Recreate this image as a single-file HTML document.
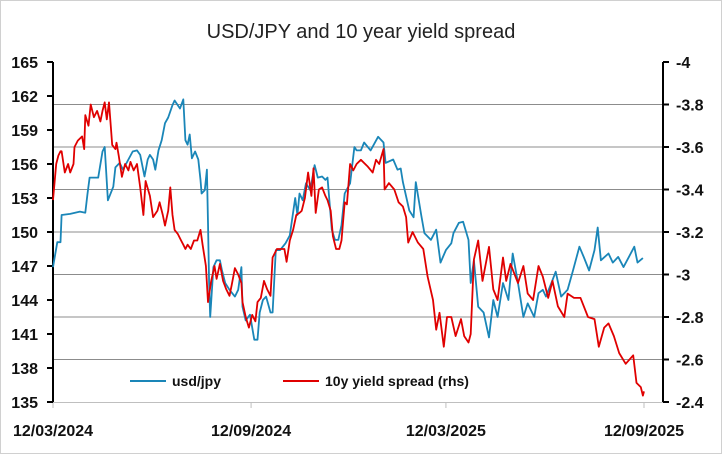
<!DOCTYPE html>
<html><head><meta charset="utf-8"><style>
body{margin:0;background:#fff;}
svg{display:block;font-family:"Liberation Sans",Arial,sans-serif;}
</style></head><body>
<svg id="c" width="722" height="454" xmlns="http://www.w3.org/2000/svg">
<rect x="0.5" y="0.5" width="721" height="453" fill="#fff" stroke="#d0d0d0"/>
<text x="361" y="38" text-anchor="middle" font-size="20" fill="#222">USD/JPY and 10 year yield spread</text>
</svg>
<script>
const usdDays=[0,4,7,8,16,25,30,32,34,42,46,48,51,56,58,62,65,70,74,78,81,85,88,90,93,95,98,101,104,107,111,113,118,121,123,125,127,129,132,135,137,138,141,143,144,145,146,149,152,155,157,160,164,169,172,175,176,179,183,187,190,192,195,198,202,204,207,211,216,220,225,227,229,232,235,239,243,246,250,253,255,259,262,265,268,271,276,280,282,286,289,295,302,307,309,316,320,323,325,331,335,337,342,345,351,356,360,365,370,372,377,381,386,388,391,395,400,405,409,413,418,423,427,432,437,441,447,451,455,458,463,467,472,478,483,489,493,498,503,506,509,516,520,525,530,535,540,543,548];
const usdVals=[146.9,149.1,149.1,151.5,151.6,151.8,151.7,153.3,154.8,154.8,157.1,157.5,152.8,154.0,155.7,156.1,155.5,156.4,157.1,157.2,156.8,154.9,156.4,156.8,156.4,155.5,157.2,158.1,159.6,160.1,161.2,161.6,160.9,161.7,158.1,157.7,158.6,156.5,157.1,156.4,154.6,153.4,153.7,155.5,150.8,145.5,142.5,146.9,147.5,147.5,146.6,145.5,144.9,144.3,144.9,146.9,143.4,142.2,142.7,140.5,140.5,142.9,144.0,144.3,142.9,142.9,148.4,148.4,149.0,149.7,153.0,151.5,153.4,152.8,154.3,153.7,155.9,154.8,154.9,154.6,154.8,150.2,149.3,149.3,150.6,153.4,154.3,157.5,157.2,157.2,157.9,157.2,158.4,157.9,156.1,156.4,155.5,155.6,154.4,151.9,151.3,154.4,151.5,149.9,149.3,150.2,147.3,148.4,149.0,149.9,150.8,150.9,149.3,145.5,147.5,143.4,142.9,140.7,144.0,142.5,145.5,144.0,148.1,145.5,142.5,143.7,142.5,144.6,144.9,144.3,145.5,146.5,144.3,144.9,146.6,148.7,147.8,146.6,148.4,150.4,147.5,148.1,147.3,147.8,146.9,147.8,148.7,147.3,147.7];
const sprDays=[0,3,5,7,8,11,14,16,19,20,23,27,29,30,33,35,38,41,44,46,48,50,52,55,58,59,61,64,67,70,72,75,78,81,84,86,90,93,97,99,102,104,107,109,111,113,116,119,121,123,125,128,131,134,137,139,142,144,147,150,152,155,158,161,164,166,169,172,175,176,179,182,185,188,190,193,196,199,202,204,208,212,215,217,220,223,226,229,231,234,237,240,242,244,247,250,253,255,258,260,263,266,268,271,273,276,279,282,286,292,297,300,303,307,308,312,317,321,325,328,330,334,339,344,348,353,356,359,363,366,370,374,379,382,386,388,391,395,399,405,409,413,418,421,425,432,437,441,446,451,455,460,464,469,475,478,484,490,497,503,507,512,516,521,526,532,539,542,546,548,549];
const sprVals=[-3.35,-3.52,-3.56,-3.58,-3.58,-3.48,-3.52,-3.48,-3.52,-3.60,-3.63,-3.65,-3.59,-3.75,-3.70,-3.80,-3.74,-3.77,-3.72,-3.77,-3.81,-3.73,-3.81,-3.61,-3.59,-3.62,-3.56,-3.46,-3.52,-3.49,-3.53,-3.49,-3.52,-3.41,-3.28,-3.44,-3.37,-3.27,-3.30,-3.34,-3.28,-3.23,-3.30,-3.41,-3.28,-3.21,-3.19,-3.16,-3.14,-3.12,-3.14,-3.12,-3.16,-3.16,-3.21,-3.14,-3.04,-2.87,-2.97,-3.04,-2.98,-3.05,-2.97,-2.93,-2.90,-2.95,-3.03,-3.00,-2.96,-2.87,-2.80,-2.75,-2.81,-2.78,-2.87,-2.89,-2.97,-2.93,-2.90,-3.08,-3.12,-3.12,-3.12,-3.06,-3.16,-3.21,-3.28,-3.29,-3.30,-3.36,-3.48,-3.37,-3.50,-3.29,-3.40,-3.41,-3.37,-3.35,-3.30,-3.18,-3.12,-3.12,-3.16,-3.34,-3.33,-3.52,-3.49,-3.52,-3.54,-3.51,-3.48,-3.54,-3.52,-3.59,-3.40,-3.43,-3.40,-3.34,-3.32,-3.27,-3.15,-3.20,-3.15,-3.12,-2.99,-2.88,-2.74,-2.82,-2.66,-2.80,-2.80,-2.71,-2.79,-2.71,-2.68,-2.72,-3.07,-3.16,-2.97,-3.13,-2.93,-2.88,-3.08,-2.97,-3.05,-2.96,-3.04,-2.91,-2.88,-3.04,-2.99,-2.89,-2.97,-2.85,-2.80,-2.91,-2.89,-2.89,-2.80,-2.79,-2.66,-2.75,-2.77,-2.71,-2.63,-2.58,-2.62,-2.49,-2.47,-2.43,-2.45];
const leftTicks=[165,162,159,156,153,150,147,144,141,138,135];
const rightTicks=[-4,-3.8,-3.6,-3.4,-3.2,-3,-2.8,-2.6,-2.4];
const xTickDays=[0,184,365,549];
const xTickLabels=["12/03/2024","12/09/2024","12/03/2025","12/09/2025"];

const L=53,R=663,T=62,B=402,D0=0,D1=549;
const xs=d=>L+(d-D0)/(D1-D0)*(644-L);
const yl=v=>T+(165-v)/30*(B-T);
const yr=v=>T+(v+4)/1.6*(B-T);
const svg=document.getElementById('c');
const NS='http://www.w3.org/2000/svg';
function mk(tag,at,parent){const e=document.createElementNS(NS,tag);for(const k in at)e.setAttribute(k,at[k]);(parent||svg).appendChild(e);return e;}

rightTicks.forEach((v,i)=>{
  if(i===0||i===rightTicks.length-1)return;
  const g=mk('line',{x1:L,x2:R,y1:yr(v),y2:yr(v),stroke:'#8c8c8c','stroke-width':1});
  
  
});
const xa=mk('line',{x1:L,x2:R,y1:B+0.5,y2:B+0.5,stroke:'#bfbfbf','stroke-width':1});


xTickDays.forEach((d,i)=>{
  const x=xs(d);
  const t=mk('line',{x1:x,x2:x,y1:B,y2:B+6,stroke:'#bfbfbf'});
  
  
  const lb=mk('text',{x:x,y:436,'text-anchor':'middle','font-size':16,'font-weight':'bold',fill:'#111'});
  lb.textContent=xTickLabels[i];
  
  
});
const la=mk('line',{x1:L,x2:L,y1:T,y2:B,stroke:'#000','stroke-width':2});


leftTicks.forEach(v=>{
  const y=yl(v);
  const t=mk('line',{x1:L-6,x2:L,y1:y,y2:y,stroke:'#000','stroke-width':2});
  
  
  const lb=mk('text',{x:38,y:y+6,'text-anchor':'end','font-size':16,'font-weight':'bold',fill:'#111'});
  lb.textContent=v;
  
  
});
const ra=mk('line',{x1:R,x2:R,y1:T,y2:B,stroke:'#000','stroke-width':2});


rightTicks.forEach(v=>{
  const y=yr(v);
  const t=mk('line',{x1:R,x2:R+6,y1:y,y2:y,stroke:'#000','stroke-width':2});
  
  
  const lb=mk('text',{x:676,y:y+6,'text-anchor':'start','font-size':16,'font-weight':'bold',fill:'#111'});
  lb.textContent=v;
  
  
});
const p1=mk('polyline',{points:usdDays.map((d,i)=>xs(d).toFixed(1)+','+yl(usdVals[i]).toFixed(1)).join(' '),fill:'none',stroke:'#1a86b8','stroke-width':1.8,'stroke-linejoin':'round'});


const p2=mk('polyline',{points:sprDays.map((d,i)=>xs(d).toFixed(1)+','+yr(sprVals[i]).toFixed(1)).join(' '),fill:'none',stroke:'#e00000','stroke-width':1.8,'stroke-linejoin':'round'});


const lg1=mk('line',{x1:130,x2:166,y1:381,y2:381,stroke:'#1a86b8','stroke-width':2});


const lt1=mk('text',{x:172,y:386,'font-size':14,'font-weight':'bold',fill:'#111'});
lt1.textContent='usd/jpy';


const lg2=mk('line',{x1:283,x2:319,y1:381,y2:381,stroke:'#e00000','stroke-width':2});


const lt2=mk('text',{x:325,y:386,'font-size':14,'font-weight':'bold',fill:'#111'});
lt2.textContent='10y yield spread (rhs)';


</script>
</body></html>
